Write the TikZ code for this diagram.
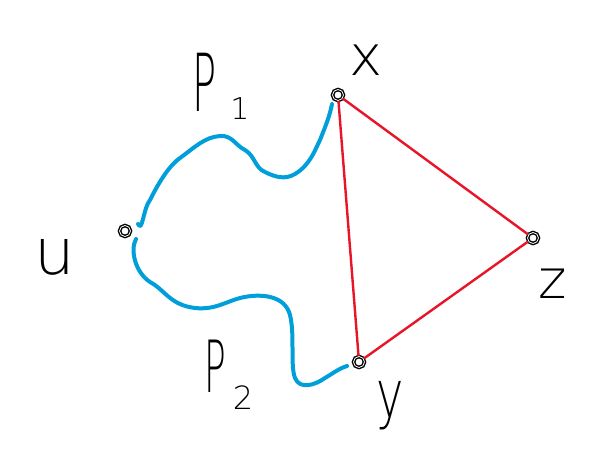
\documentclass[tikz,border=0pt]{standalone}
\usepackage{fontspec}
\setmainfont{DejaVu Sans ExtraLight}
\definecolor{pathblue}{RGB}{0,159,218}
\definecolor{edgered}{RGB}{232,20,40}
\begin{document}
\begin{tikzpicture}[x=1pt,y=-1pt,
  vtx/.style={circle,draw=black,line width=1.4pt,inner sep=0pt,minimum size=11pt,double=white,double distance=0.8pt},
  redge/.style={draw=edgered,line width=2.4pt},
  bpath/.style={draw=pathblue,line width=4pt,line cap=round,line join=round},
  lbl/.style={text=black,inner sep=0pt}]
\useasboundingbox (0,0) rectangle (595,448);
\node[vtx] (x) at (338,95) {};
\node[vtx] (u) at (125,231) {};
\node[vtx] (z) at (533,238) {};
\node[vtx] (y) at (359,362) {};
\draw[redge] (x) -- (y);
\draw[redge] (x) -- (z);
\draw[redge] (y) -- (z);
\coordinate (p1s) at (138,224);
\coordinate (p1e) at (332,104);
\draw[bpath] (p1s) to[out=-65,in=-130] (150,200) .. controls (160,180) and (170,165) .. (180,158)
  .. controls (195,147) and (205,137) .. (220,136) .. controls (232,135) and (235,145) .. (245,150)
  .. controls (255,156) and (255,168) .. (265,172) .. controls (275,177) and (285,180) .. (295,174)
  .. controls (310,165) and (315,150) .. (320,140) .. controls (326,125) and (330,115) .. (p1e);
\coordinate (p2s) at (136,239);
\coordinate (p2e) at (347,366);
\draw[bpath] (p2s) .. controls (130,250) and (135,272) .. (150,282)
  .. controls (165,290) and (170,305) .. (195,308) .. controls (215,310) and (225,302) .. (240,298)
  .. controls (260,293) and (285,295) .. (290,315) .. controls (295,335) and (290,365) .. (295,378)
  .. controls (300,390) and (315,385) .. (325,378) .. controls (335,372) and (340,368) .. (p2e);
\node[lbl,font=\fontsize{80}{80}\selectfont] (lP1) at (205,82) {\scalebox{0.5}[1]{P}};
\node[lbl,font=\fontsize{30}{30}\selectfont] (l1) at (240,109) {1};
\node[lbl,font=\fontsize{56}{56}\selectfont] (lx) at (366,60) {x};
\node[lbl,font=\fontsize{64}{64}\selectfont] (lu) at (55,257) {u};
\node[lbl,font=\fontsize{54}{54}\selectfont] (lz) at (553,284) {z};
\node[lbl,font=\fontsize{72}{72}\selectfont] (lP2) at (215,366) {\scalebox{0.5}[1]{P}};
\node[lbl,font=\fontsize{32}{32}\selectfont] (l2) at (243,398) {2};
\node[lbl,font=\fontsize{66}{66}\selectfont] (ly) at (390,406) {\scalebox{0.7}[1]{y}};
\end{tikzpicture}
\end{document}
